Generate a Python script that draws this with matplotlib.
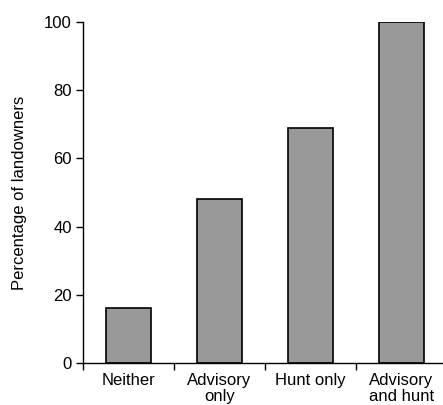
import matplotlib.pyplot as plt
import numpy as np

plt.rcParams['font.family'] = ['Liberation Sans', 'DejaVu Sans']

categories = ['Neither', 'Advisory\nonly', 'Hunt only', 'Advisory\nand hunt']
values = [16, 48, 69, 100]

fig = plt.figure(figsize=(4.43, 4.05), dpi=100)
ax = fig.add_axes([83 / 443, 1 - 363 / 405, 360 / 443, 341 / 405])

x = np.arange(len(categories))
ax.bar(x, values, width=0.5, color='#999999', edgecolor='black', linewidth=1.2)

ax.set_xlim(-0.5, 3.456)
ax.set_ylim(0, 100)
ax.set_yticks([0, 20, 40, 60, 80, 100])
ax.set_xticks(np.arange(-0.5, 3.0, 1.0))
ax.set_xticklabels([])
ax.set_xticks(x, minor=True)
ax.set_xticklabels(categories, minor=True, linespacing=1.12)
ax.tick_params(axis='x', which='minor', length=0, pad=7, labelsize=12)
ax.tick_params(axis='x', which='major', length=5, width=1, direction='out')
ax.tick_params(axis='y', length=5, width=1, direction='out', labelsize=12, pad=3)

ax.spines['top'].set_visible(False)
ax.spines['right'].set_visible(False)
ax.spines['left'].set_linewidth(1)
ax.spines['bottom'].set_linewidth(1)

ax.set_ylabel('Percentage of landowners', fontsize=12, labelpad=12)

fig.savefig('out.png', dpi=100)
